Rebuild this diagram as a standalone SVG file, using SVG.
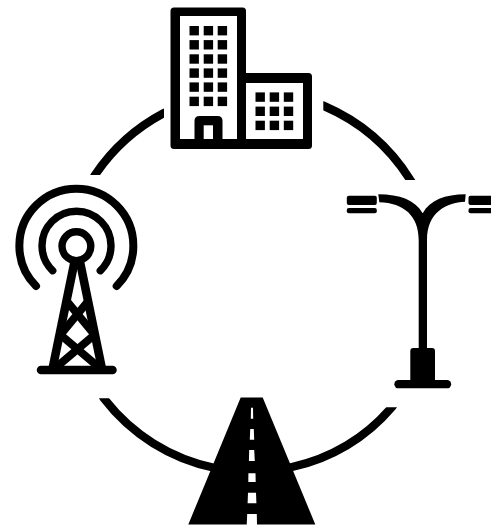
<svg xmlns="http://www.w3.org/2000/svg" width="491" height="525" viewBox="0 0 491 525">
<style>
.k{fill:#000}
.w{fill:#fff}
.arc{fill:none;stroke:#000;stroke-width:8.400}
.t{fill:none;stroke:#000;stroke-width:7.400}
.l{fill:none;stroke:#000;stroke-width:8.600}
.r{stroke-linecap:round}
</style>
<defs>
<clipPath id="cTL"><rect x="0" y="0" width="164" height="175"/></clipPath>
<clipPath id="cTR"><rect x="323.300" y="0" width="167" height="180"/></clipPath>
<clipPath id="cBL"><rect x="0" y="398.300" width="491" height="127"/></clipPath>
<clipPath id="cBR"><rect x="0" y="407.300" width="491" height="118"/></clipPath>
<g id="win"><rect width="9.400" height="9.400"/></g>
</defs>
<rect width="491" height="525" fill="#fff"/>
<g id="connectors">
<path class="arc" clip-path="url(#cTL)" d="M91.100,182L95,175A190,190 0 0 1 164,113L171.500,110.200"/>
<path class="arc" clip-path="url(#cTR)" d="M316.700,103L324,106A190,190 0 0 1 410.300,180L414.800,186.600"/>
<path class="arc" clip-path="url(#cBL)" d="M100.100,391.200L103.800,398.300A187,187 0 0 0 215,468L222,470"/>
<path class="arc" clip-path="url(#cBR)" d="M284,469L292,467A180,180 0 0 0 391.700,407.300L396.400,400.900"/>
</g>
<g id="building">
<path class="k" d="M174,7.500H242.500Q246,7.500 246,11V73H308.500Q312,73 312,76.500V145.500Q312,149 308.500,149H174Q170.500,149 170.500,145.500V11Q170.500,7.500 174,7.500Z"/>
<rect class="w" x="180" y="16" width="57" height="123"/>
<rect class="w" x="246" y="83" width="57" height="56"/>
<g class="k">
<use href="#win" x="189.500" y="26"/><use href="#win" x="203.700" y="26"/><use href="#win" x="217.700" y="26"/>
<use href="#win" x="189.500" y="40.100"/><use href="#win" x="203.700" y="40.100"/><use href="#win" x="217.700" y="40.100"/>
<use href="#win" x="189.500" y="54.300"/><use href="#win" x="203.700" y="54.300"/><use href="#win" x="217.700" y="54.300"/>
<use href="#win" x="189.500" y="68.400"/><use href="#win" x="203.700" y="68.400"/><use href="#win" x="217.700" y="68.400"/>
<use href="#win" x="189.500" y="82.400"/><use href="#win" x="203.700" y="82.400"/><use href="#win" x="217.700" y="82.400"/>
<use href="#win" x="189.500" y="96.700"/><use href="#win" x="203.700" y="96.700"/><use href="#win" x="217.700" y="96.700"/>
<use href="#win" x="255.500" y="92.400"/><use href="#win" x="269.700" y="92.400"/><use href="#win" x="283.800" y="92.400"/>
<use href="#win" x="255.500" y="106.600"/><use href="#win" x="269.700" y="106.600"/><use href="#win" x="283.800" y="106.600"/>
<use href="#win" x="255.500" y="120.700"/><use href="#win" x="269.700" y="120.700"/><use href="#win" x="283.800" y="120.700"/>
</g>
<path class="k" d="M194.500,139V121Q194.500,116 199.500,116H217.500Q222.500,116 222.500,121V139Z"/>
<rect class="w" x="203.700" y="125.300" width="9.300" height="13.700"/>
</g>
<g id="tower">
<circle class="t" cx="76.400" cy="246.200" r="14.400"/>
<path class="t r" d="M52.700,270.700A34.500,34.500 0 1 1 100.300,270.700"/>
<path class="t r" style="stroke-width:8" d="M36,286A57,57 0 1 1 116.700,286"/>
<path class="l" d="M52.700,368L75.300,258"/>
<path class="l" d="M101.800,368L79.200,258"/>
<path class="l" style="stroke-width:8" d="M67.300,301.700L93.300,333.300M87.700,301.700L61.700,333.300M60.700,335L100,368.300M94.300,335L55,368.300"/>
<path class="t r" style="stroke-width:8.500" d="M41,370H112.500"/>
</g>
<g id="lamp">
<path class="k" d="M378.300,194.300C400,194.500 415,200 422.700,213.300C430,200 445,194.500 465.700,194.300L465,201.700C446,203 427,212 427,240V350H418.700V240C418.700,216 404,203 379.300,202.300Z"/>
<rect class="k" x="346.800" y="195.700" width="30" height="9.300" rx="2"/>
<rect class="k" x="346.800" y="208" width="30" height="5.300" rx="2"/>
<rect class="k" x="468.500" y="195.700" width="30" height="9.300" rx="2"/>
<rect class="k" x="468.500" y="208" width="30" height="5.300" rx="2"/>
<rect class="k" x="410.300" y="348" width="24.700" height="36" rx="3"/>
<path class="t r" style="stroke-width:8.300" d="M398.500,384.200H447"/>
</g>
<g id="road">
<path class="k" d="M240.700,397.500H262.700L315.300,524.500H188.300Z"/>
<g class="w">
<path d="M251,407.700H253L253.200,418.700H250.800Z"/>
<path d="M250.200,429H253.800L254.200,439.700H249.800Z"/>
<path d="M249.200,450H254.200L254.800,461H248.900Z"/>
<path d="M248.400,473.300H255.500L255.700,482H248.300Z"/>
<path d="M248,492.700H256L256.400,503.300H247.600Z"/>
<path d="M247.200,514H256.800L257,525H246.700Z"/>
</g>
</g>
</svg>
